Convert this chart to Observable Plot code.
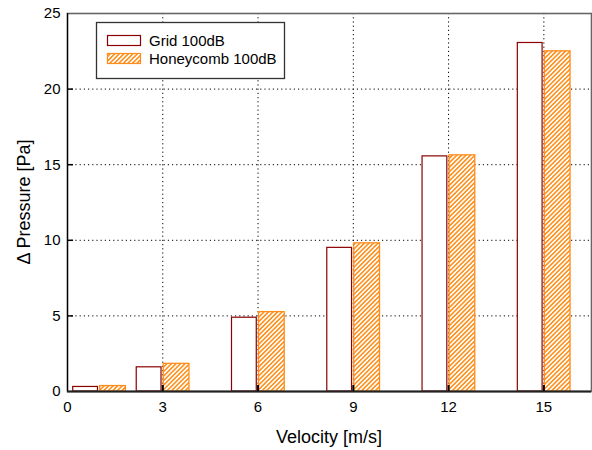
<!DOCTYPE html>
<html>
<head>
<meta charset="utf-8">
<script src="https://cdn.jsdelivr.net/npm/d3@7"></script>
<script src="https://cdn.jsdelivr.net/npm/@observablehq/plot@0.6"></script>
<style>
  body { margin: 0; background: white; }
  #chart { position: relative; width: 592px; height: 450px; }
</style>
</head>
<body>
<div id="chart"></div>
<script>
const velocity = [1, 3, 6, 9, 12, 15];
const gridValues = [0.3, 1.6, 4.88, 9.5, 15.55, 23.05];
const honeycombValues = [0.36, 1.83, 5.25, 9.8, 15.62, 22.5];
const seriesNames = ["Grid 100dB", "Honeycomb 100dB"];
const xTicks = [0, 3, 6, 9, 12, 15];
const yTicks = [0, 5, 10, 15, 20, 25];
const xLabel = "Velocity [m/s]";
const yLabel = "Δ Pressure [Pa]";

const rows = velocity.map((v, i) => ({v, grid: gridValues[i], hc: honeycombValues[i]}));
const font = "'Liberation Sans', Arial, sans-serif";

const chart = Plot.plot({
  width: 592,
  height: 450,
  marginLeft: 67,
  marginRight: 1,
  marginTop: 13,
  marginBottom: 59,
  style: {fontFamily: font, fontSize: "15px", color: "#000", background: "white"},
  x: {domain: [0, 16.5]},
  y: {domain: [0, 25]},
  marks: [
    Plot.gridX(xTicks.slice(1), {stroke: "black", strokeOpacity: 1, strokeDasharray: "1.2,3"}),
    Plot.gridY(yTicks.slice(1, -1), {stroke: "black", strokeOpacity: 1, strokeDasharray: "1.2,3"}),
    Plot.rect(rows, {x1: d => d.v - 0.82, x2: d => d.v - 0.04, y1: 0, y2: "grid", fill: "white", stroke: "#8b0000", strokeWidth: 1.2}),
    Plot.rect(rows, {x1: d => d.v + 0.03, x2: d => d.v + 0.84, y1: 0, y2: "hc", fill: "url(#hatch)", stroke: "#ff8c1a", strokeWidth: 1.3}),
    Plot.frame({stroke: "#666", strokeWidth: 1.6}),
    Plot.ruleX([0], {stroke: "black", strokeWidth: 1.2}),
    Plot.ruleY([0], {stroke: "#222", strokeWidth: 2.2}),
    Plot.axisX({ticks: xTicks.slice(1), tickSize: -6, text: null, label: null, stroke: "black", strokeWidth: 2}),
    Plot.axisX({ticks: xTicks, tickSize: 0, tickPadding: 10, label: null, fontSize: 15}),
    Plot.axisY({ticks: yTicks.slice(1, -1), tickSize: -6, text: null, label: null, stroke: "black", strokeWidth: 1.5}),
    Plot.axisY({ticks: yTicks, tickSize: 0, tickPadding: 7, label: null, fontSize: 15})
  ]
});

const svg = d3.select(chart);
const defs = svg.insert("defs", ":first-child");
const pat = defs.append("pattern")
  .attr("id", "hatch")
  .attr("patternUnits", "userSpaceOnUse")
  .attr("width", 3.2)
  .attr("height", 3.2)
  .attr("patternTransform", "rotate(45)");
pat.append("rect").attr("width", 3.2).attr("height", 3.2).attr("fill", "white");
pat.append("line").attr("x1", 0.8).attr("y1", 0).attr("x2", 0.8).attr("y2", 3.2)
  .attr("stroke", "#ff8a10").attr("stroke-width", 1.5);

// axis labels
const xs = chart.scale("x"), ys = chart.scale("y");
const cx = (xs.range[0] + xs.range[1]) / 2;
const cy = (ys.range[0] + ys.range[1]) / 2;
svg.append("text").attr("x", cx).attr("y", 437).attr("dy", "0.35em")
  .attr("text-anchor", "middle").attr("font-size", 18).attr("fill", "#000").text(xLabel);
svg.append("text").attr("transform", `translate(24,${cy}) rotate(-90)`).attr("dy", "0.35em")
  .attr("text-anchor", "middle").attr("font-size", 18).attr("fill", "#000").text(yLabel);

// legend
const lg = svg.append("g").attr("font-family", font).attr("font-size", 15).attr("fill", "#000").attr("text-anchor", "start");
lg.append("rect").attr("x", 96.5).attr("y", 22.5).attr("width", 188).attr("height", 56)
  .attr("fill", "white").attr("stroke", "#333").attr("stroke-width", 1.3);
const swatches = [
  {fill: "white", stroke: "#8b0000"},
  {fill: "url(#hatch)", stroke: "#ff8c1a"}
];
seriesNames.forEach((name, i) => {
  const y = 35.5 + i * 18;
  lg.append("rect").attr("x", 107.5).attr("y", y).attr("width", 33).attr("height", 10)
    .attr("fill", swatches[i].fill).attr("stroke", swatches[i].stroke).attr("stroke-width", 1.2);
  lg.append("text").attr("x", 149).attr("y", y + 5).attr("dy", "0.35em").text(name);
});

document.getElementById("chart").appendChild(chart);
</script>
</body>
</html>
